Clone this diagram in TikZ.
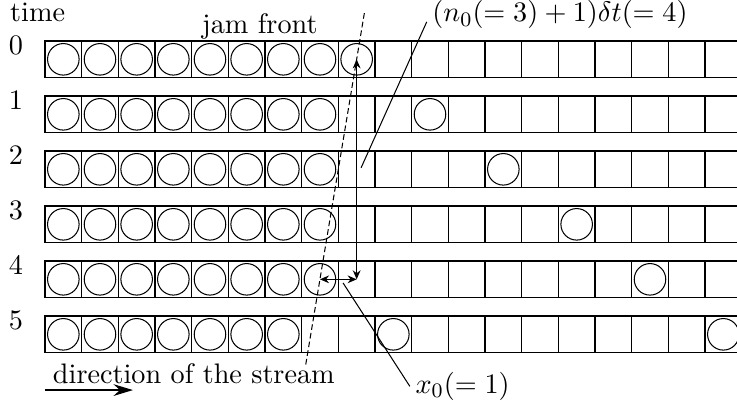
\documentclass[tikz,border=0pt,11pt]{standalone}
\usepackage{amsmath}
\usepackage{amssymb}
\usetikzlibrary{arrows.meta,positioning}

\begin{document}
\begin{tikzpicture}[x=0.5cm,y=0.5cm,>={Stealth[length=3.5pt,width=3pt]}]
  \useasboundingbox (-1.227,1.118) rectangle (18.873,-10.063);
  \clip (-1.227,1.118) rectangle (18.873,-10.063);

  % one strip of cells per time step
  \foreach \t in {0,...,5} {
    \draw (0,-1.5*\t) rectangle (19.5,-1.5*\t-1);
    \foreach \c in {1,...,18} {
      \draw (\c,-1.5*\t) -- (\c,-1.5*\t-1);
    }
    \node[anchor=base] (t\t) at (-0.79,-1.5*\t-0.38) {$\t$};
  }
  \node[anchor=base] (time) at (-0.2,0.526) {time};

  % cars standing in the jam
  \foreach \t/\n in {0/8, 1/7, 2/7, 3/7, 4/7, 5/6} {
    \foreach \c in {0,...,\n} {
      \draw (\c+0.5,-1.5*\t-0.5) circle[radius=0.215cm];
    }
  }

  % cars that left the jam
  \foreach \t/\c in {1/10, 2/12, 3/14, 4/16, 5/9, 5/18} {
    \draw (\c+0.5,-1.5*\t-0.5) circle[radius=0.215cm];
  }

  % jam front
  \coordinate (jtop) at (8.71,0.76);
  \coordinate (jbot) at (7.10,-8.89);
  \draw[dash pattern=on 2.2pt off 1.2pt] (jtop) -- (jbot);
  \node[anchor=base] (jam) at (5.86,0.21) {jam front};

  % delay and shift of the front
  \coordinate (car0) at (8.5,-0.5);
  \coordinate (car4) at (8.5,-6.5);
  \coordinate (gap4) at (7.5,-6.5);
  \draw[<->] (car0) -- (car4);
  \draw[<->] (gap4) -- (car4);

  \node[anchor=base west,inner sep=2pt] (delay) at (10.41,0.52) {$(n_0(=3)+1)\delta t(=4)$};
  \coordinate (delayend) at (8.62,-3.46);
  \draw (delay.base west) -- (delayend);

  \node[anchor=base west,inner sep=2pt] (shift) at (9.95,-9.61) {$x_0(=1)$};
  \coordinate (shiftend) at (8.13,-6.6);
  \draw (shift.west) -- (shiftend);

  % direction of the stream
  \node[anchor=base] (dir) at (4.06,-9.335) {direction of the stream};
  \coordinate (dirA) at (0,-9.52);
  \coordinate (dirB) at (2.4,-9.52);
  \draw[line width=1pt,-{Stealth[length=7.5pt,width=4.5pt]}] (dirA) -- (dirB);

\end{tikzpicture}
\end{document}
